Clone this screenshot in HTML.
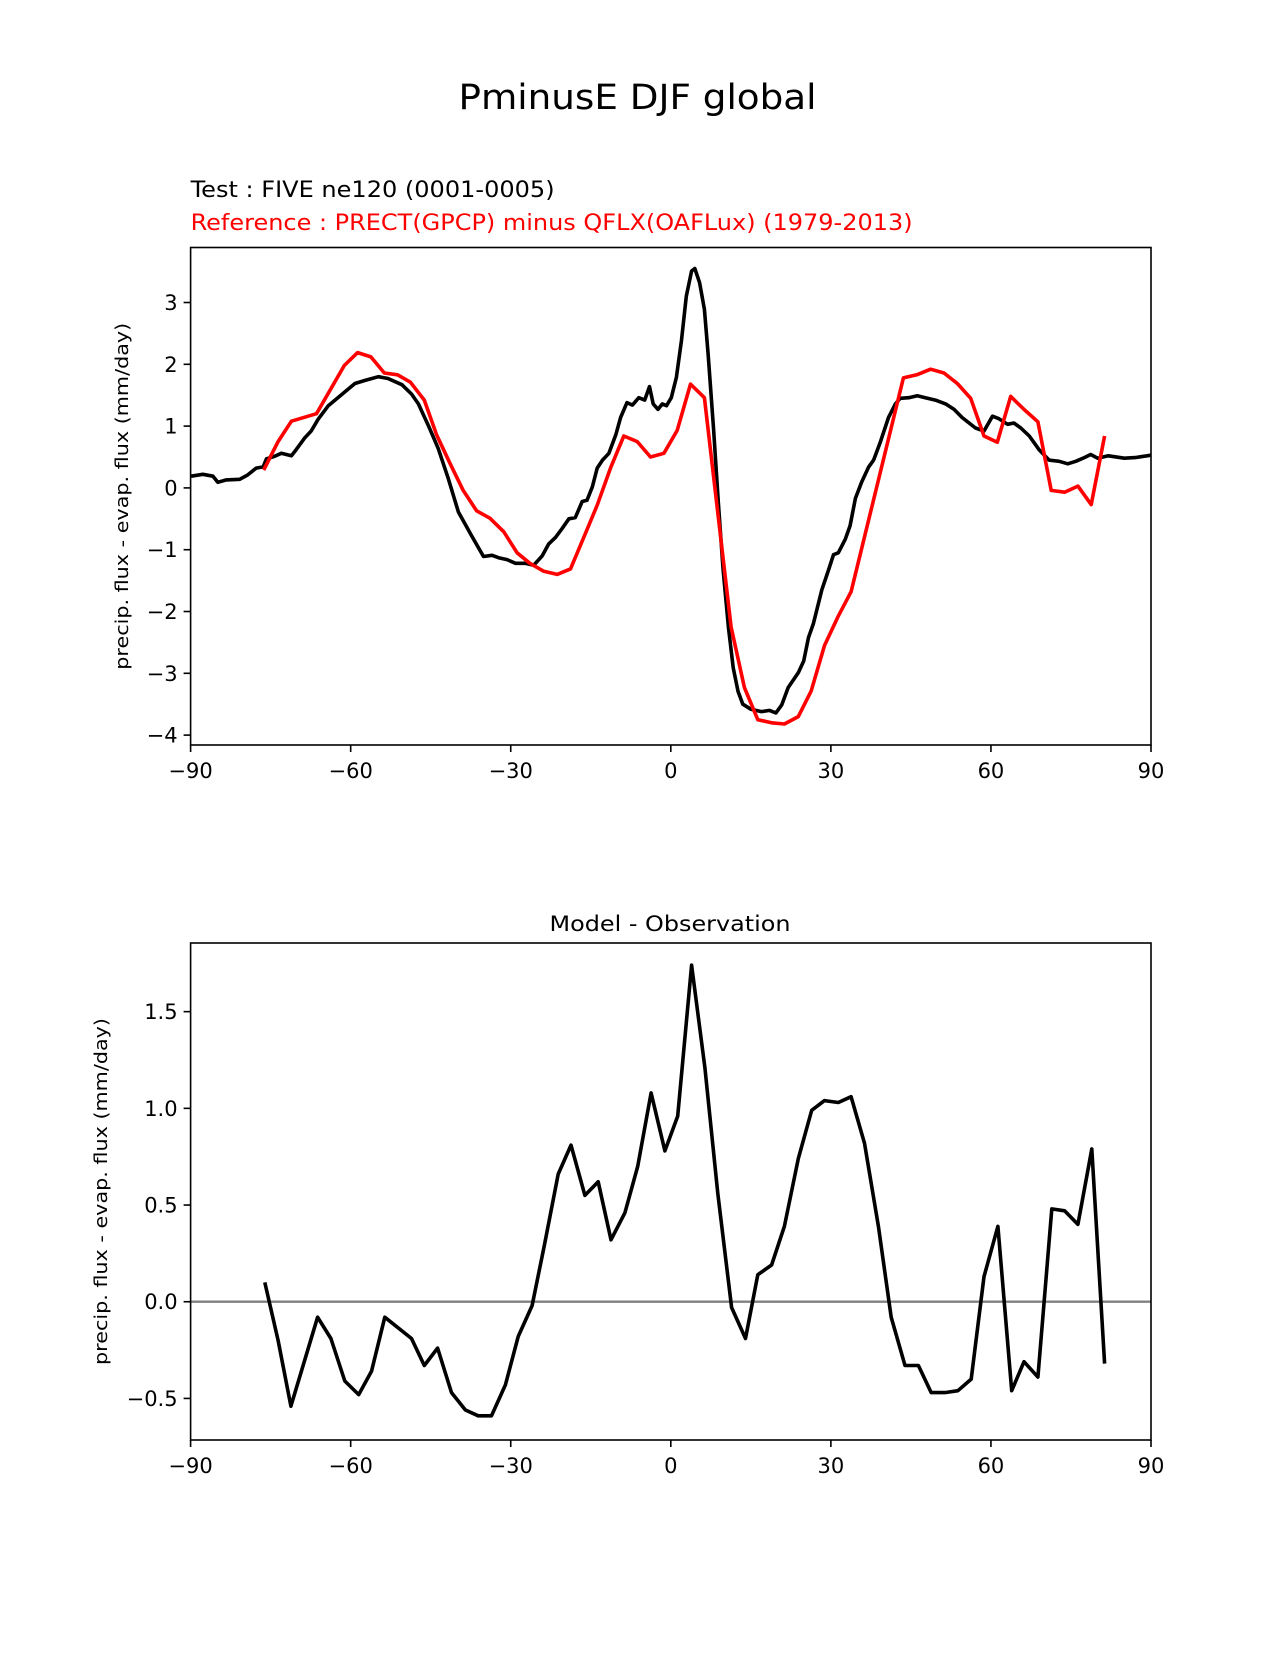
<!DOCTYPE html>
<html><head><meta charset="utf-8"><style>
html,body{margin:0;padding:0;background:#fff;}
svg text{font-family:"DejaVu Sans","Liberation Sans",sans-serif;}
</style></head><body>
<svg id="fig" width="1275" height="1650" viewBox="0 0 1275 1650" xmlns="http://www.w3.org/2000/svg">
<rect x="0" y="0" width="1275" height="1650" fill="#fff"/>
<text x="637.5" y="109" font-size="35" text-anchor="middle" textLength="358" lengthAdjust="spacingAndGlyphs">PminusE DJF global</text>
<text x="190.6" y="197" font-size="22" textLength="364" lengthAdjust="spacingAndGlyphs">Test : FIVE ne120 (0001-0005)</text>
<text x="190.6" y="230" font-size="22" fill="#ff0000" textLength="722" lengthAdjust="spacingAndGlyphs">Reference : PRECT(GPCP) minus QFLX(OAFLux) (1979-2013)</text>
<g id="top"></g>
<g id="bot"></g>
<text x="670" y="931" font-size="21" text-anchor="middle" textLength="241" lengthAdjust="spacingAndGlyphs">Model - Observation</text>
</svg>
<script>
const modelLat=[-89.9,-87.7,-85.8,-84.9,-83.3,-80.8,-79.3,-77.7,-76.4,-75.8,-74.3,-73.0,-71.1,-70.2,-68.6,-67.4,-66.1,-64.2,-61.7,-59.2,-57.3,-54.8,-53.0,-50.4,-48.6,-47.3,-45.4,-43.6,-41.7,-39.8,-37.3,-35.1,-33.5,-32.3,-30.7,-29.1,-27.3,-25.7,-24.1,-22.9,-21.6,-20.4,-19.1,-17.9,-16.6,-15.7,-14.7,-13.8,-12.8,-11.6,-10.3,-9.4,-8.2,-7.2,-6.0,-4.9,-4.0,-3.3,-2.4,-1.6,-0.8,0.1,1.05,2.0,2.9,3.9,4.5,5.4,6.3,7.0,8.0,8.9,9.8,10.8,11.7,12.6,13.5,15.0,17.0,18.5,19.7,20.8,22.0,23.9,24.9,25.8,26.7,28.3,29.6,30.5,31.4,32.7,33.6,34.6,35.8,37.1,38.0,39.3,40.8,42.1,43.0,44.6,46.2,47.7,49.6,51.5,53.1,54.6,55.9,57.1,58.7,60.3,61.5,63.1,64.3,65.6,67.2,69.0,70.9,72.8,74.4,75.9,77.5,78.7,80.0,82.0,85.0,87.0,90.0];
const modelVal=[0.19,0.22,0.19,0.09,0.13,0.14,0.21,0.32,0.34,0.47,0.51,0.56,0.52,0.62,0.81,0.92,1.11,1.33,1.51,1.69,1.74,1.80,1.77,1.67,1.52,1.36,1.00,0.64,0.15,-0.39,-0.78,-1.11,-1.09,-1.13,-1.16,-1.22,-1.22,-1.25,-1.10,-0.91,-0.80,-0.66,-0.50,-0.48,-0.22,-0.20,0.02,0.32,0.45,0.56,0.86,1.14,1.38,1.34,1.46,1.42,1.64,1.36,1.27,1.36,1.33,1.46,1.79,2.39,3.10,3.51,3.55,3.32,2.89,2.17,0.97,-0.23,-1.32,-2.25,-2.91,-3.29,-3.50,-3.58,-3.62,-3.60,-3.64,-3.51,-3.23,-2.99,-2.80,-2.42,-2.20,-1.65,-1.32,-1.08,-1.05,-0.83,-0.61,-0.17,0.10,0.34,0.45,0.75,1.14,1.36,1.45,1.46,1.49,1.46,1.42,1.36,1.27,1.14,1.05,0.97,0.92,1.16,1.12,1.03,1.05,0.97,0.84,0.62,0.45,0.43,0.39,0.43,0.49,0.54,0.48,0.52,0.48,0.49,0.53];
const obsLat=[-76.3,-73.6,-71.1,-66.4,-61.2,-58.7,-56.2,-53.7,-51.2,-48.8,-46.2,-43.9,-41.4,-38.9,-36.4,-33.9,-31.3,-28.8,-26.4,-23.8,-21.3,-18.8,-16.3,-13.8,-11.3,-8.8,-6.3,-3.8,-1.3,1.2,3.7,6.3,11.3,13.8,16.3,18.9,21.3,23.9,26.3,28.8,31.3,33.8,43.6,46.1,48.7,51.2,53.7,56.2,58.7,61.2,63.7,66.2,68.8,71.3,73.8,76.3,78.8,81.3];
const obsVal=[0.29,0.75,1.08,1.20,1.98,2.19,2.12,1.86,1.83,1.71,1.42,0.86,0.40,-0.04,-0.37,-0.49,-0.71,-1.05,-1.22,-1.35,-1.40,-1.31,-0.80,-0.28,0.32,0.84,0.75,0.50,0.56,0.93,1.68,1.46,-2.25,-3.23,-3.75,-3.80,-3.82,-3.70,-3.29,-2.55,-2.09,-1.68,1.78,1.83,1.92,1.86,1.69,1.45,0.84,0.74,1.48,1.27,1.07,-0.04,-0.07,0.03,-0.27,0.84];
const diffLat=[-76.1,-73.6,-71.2,-66.2,-63.7,-61.1,-58.5,-56.1,-53.6,-48.6,-46.2,-43.7,-41.1,-38.5,-36.1,-33.6,-31.0,-28.6,-26.0,-23.7,-21.1,-18.7,-16.1,-13.6,-11.2,-8.6,-6.2,-3.7,-1.1,1.3,3.9,6.4,8.8,11.4,14.0,16.3,18.9,21.3,23.9,26.4,28.8,31.4,33.8,36.3,38.9,41.3,43.9,46.4,48.8,51.4,53.8,56.3,58.7,61.3,63.9,66.2,68.8,71.4,73.8,76.3,78.9,81.3];
const diffVal=[0.10,-0.20,-0.54,-0.08,-0.19,-0.41,-0.48,-0.36,-0.08,-0.19,-0.33,-0.24,-0.47,-0.56,-0.59,-0.59,-0.43,-0.18,-0.02,0.29,0.66,0.81,0.55,0.62,0.32,0.46,0.70,1.08,0.78,0.96,1.74,1.21,0.56,-0.03,-0.19,0.14,0.19,0.39,0.74,0.99,1.04,1.03,1.06,0.82,0.39,-0.08,-0.33,-0.33,-0.47,-0.47,-0.46,-0.40,0.13,0.39,-0.46,-0.31,-0.39,0.48,0.47,0.40,0.79,-0.32];
const xTicks=[-90,-60,-30,0,30,60,90];
const xTickLabels=["\u221290","\u221260","\u221230","0","30","60","90"];
const topYTicks=[-4,-3,-2,-1,0,1,2,3];
const topYTickLabels=["\u22124","\u22123","\u22122","\u22121","0","1","2","3"];
const botYTicks=[-0.5,0,0.5,1,1.5];
const botYTickLabels=["\u22120.5","0.0","0.5","1.0","1.5"];

const NS="http://www.w3.org/2000/svg";
function mk(tag,attrs,parent){const e=document.createElementNS(NS,tag);for(const k in attrs)e.setAttribute(k,attrs[k]);parent.appendChild(e);return e;}
function panel(g,box,ymin,ymax){
  const sx=v=>box.l+(v+90)/180*(box.r-box.l);
  const sy=v=>box.b-(v-ymin)/(ymax-ymin)*(box.b-box.t);
  return {sx,sy};
}
function drawAxes(g,box,ax,yTicks,yLabels,ylabelX){
  xTicks.forEach((t,i)=>{
    const x=ax.sx(t);
    const tk=mk('line',{x1:x,x2:x,y1:box.b,y2:box.b+7,stroke:'#000','stroke-width':1.6},g);
    
    
    const lb=mk('text',{x:x,y:box.b+33,'font-size':21,'text-anchor':'middle'},g);
    lb.textContent=xTickLabels[i];
    
    
  });
  yTicks.forEach((t,i)=>{
    const y=ax.sy(t);
    const tk=mk('line',{x1:box.l-7,x2:box.l,y1:y,y2:y,stroke:'#000','stroke-width':1.6},g);
    
    
    const lb=mk('text',{x:box.l-13,y:y+7.5,'font-size':21,'text-anchor':'end'},g);
    lb.textContent=yLabels[i];
    
    
  });
  const cy=(box.t+box.b)/2;
  const yl=mk('text',{x:ylabelX,y:cy,'font-size':18,'text-anchor':'middle',transform:`rotate(-90 ${ylabelX} ${cy})`,textLength:347,lengthAdjust:'spacingAndGlyphs'},g);
  yl.textContent='precip. flux - evap. flux (mm/day)';
  
  
}
function frame(g,box){
  const f=mk('rect',{x:box.l,y:box.t,width:box.r-box.l,height:box.b-box.t,fill:'none',stroke:'#000','stroke-width':1.6},g);
  
  
}
function line(g,ax,xs,ys,color,w,name){
  const d=xs.map((x,i)=>(i?'L':'M')+ax.sx(x).toFixed(1)+' '+ax.sy(ys[i]).toFixed(1)).join(' ');
  const p=mk('path',{d:d,fill:'none',stroke:color,'stroke-width':w,'stroke-linejoin':'round'},g);
  
  
}
const topG=document.getElementById('top');
const tb={l:190.6,r:1151,t:247.5,b:745};
const tax=panel(topG,tb,-4.16,3.89);
line(topG,tax,modelLat,modelVal,'#000',3.6,'test-model-line');
line(topG,tax,obsLat,obsVal,'#ff0000',3.6,'reference-obs-line');
frame(topG,tb);
drawAxes(topG,tb,tax,topYTicks,topYTickLabels,128);
const botG=document.getElementById('bot');
const bb={l:190.6,r:1151,t:943,b:1440};
const bax=panel(botG,bb,-0.715,1.855);
const zl=mk('line',{x1:bb.l,x2:bb.r,y1:bax.sy(0),y2:bax.sy(0),stroke:'#808080','stroke-width':2.4},botG);


line(botG,bax,diffLat,diffVal,'#000',3.6,'difference-line');
frame(botG,bb);
drawAxes(botG,bb,bax,botYTicks,botYTickLabels,107);
</script>
</body></html>
